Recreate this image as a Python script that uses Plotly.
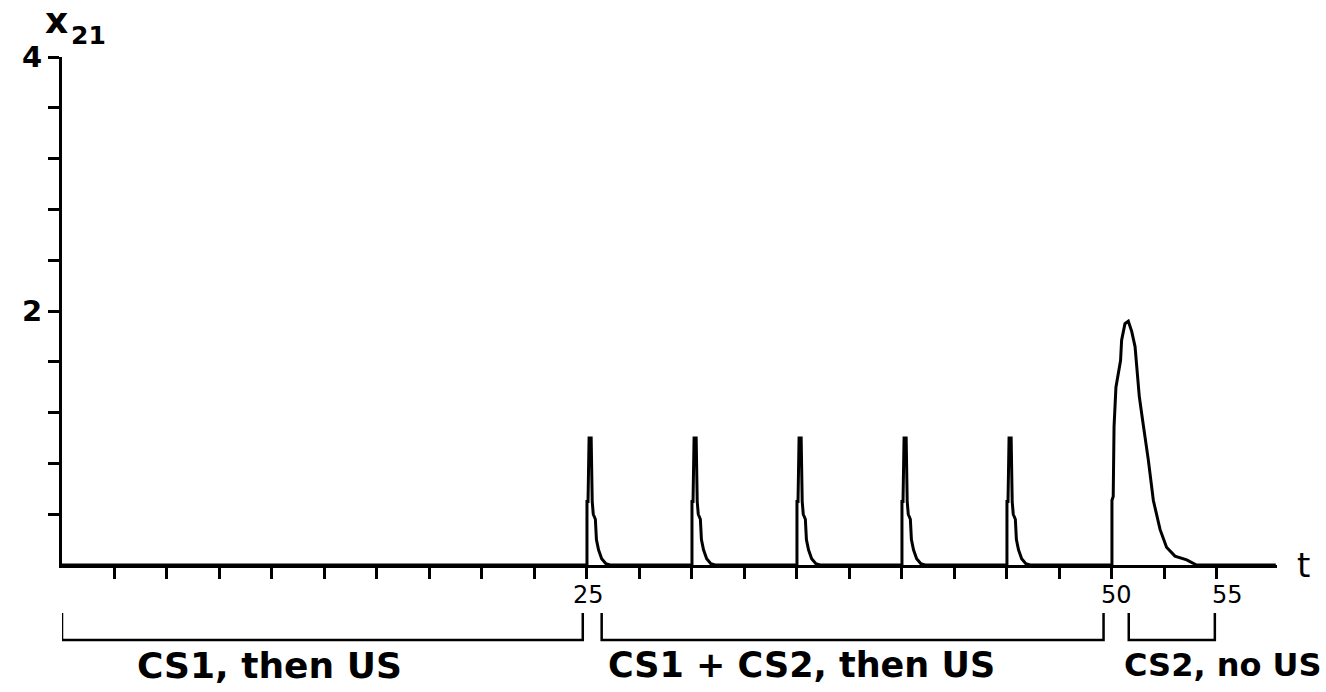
import plotly.graph_objects as go

# ---- data ----
trial_onsets = [25, 30, 35, 40, 45]              # CS1 + CS2 trials
spike_dt = [0, 0, 0.05, 0.10, 0.20, 0.25, 0.30, 0.40, 0.45, 0.55, 0.70, 0.90, 1.10]
spike_x21 = [0, 0.50, 0.50, 1.00, 1.00, 0.50, 0.40, 0.36, 0.20, 0.12, 0.05, 0.01, 0]

peak_t = [50.0, 50.0, 50.06, 50.10, 50.19, 50.41, 50.46, 50.62, 50.78, 50.94,
          51.10, 51.30, 51.46, 51.73, 51.97, 52.29, 52.60, 53.00, 53.56, 54.03]
peak_x21 = [0, 0.51, 0.54, 1.09, 1.40, 1.61, 1.77, 1.90, 1.92, 1.84,
            1.72, 1.33, 1.14, 0.83, 0.51, 0.28, 0.14, 0.07, 0.04, 0]

x_tick_vals = [2.5, 5, 7.5, 10, 12.5, 15, 17.5, 20, 22.5, 25, 27.5, 30, 32.5, 35,
               37.5, 40, 42.5, 45, 47.5, 50, 52.5, 55]
y_tick_vals = [0.4, 0.8, 1.2, 1.6, 2.0, 2.4, 2.8, 3.2, 3.6, 4.0]
y_tick_text = ["", "", "", "", "2", "", "", "", "", "4"]

x_labels = ["25", "50", "55"]
x_label_pos = [25.05, 50.2, 55.52]

phase_labels = ["CS1, then US", "CS1 + CS2, then US", "CS2, no US"]
phase_start = [0, 25.7, 50.8]
phase_end = [24.8, 49.6, 54.9]
phase_label_pos = [9.9, 35.2, 55.3]
phase_label_size = [36, 35, 32]

# ---- assemble the curve ----
t = [0]
x21 = [0]
for onset in trial_onsets:
    for dt, v in zip(spike_dt, spike_x21):
        t.append(onset + dt)
        x21.append(v)
t += peak_t
x21 += peak_x21
t.append(57.8)
x21.append(0)

fig = go.Figure()
fig.add_trace(go.Scatter(x=t, y=x21, mode="lines",
                         line=dict(color="black", width=3),
                         hoverinfo="skip", showlegend=False))

fig.update_layout(
    width=1326, height=692,
    margin=dict(l=62, r=49, t=57, b=127),
    paper_bgcolor="white", plot_bgcolor="white",
    showlegend=False,
    xaxis=dict(range=[0, 57.86], showgrid=False, zeroline=False,
               showline=True, linecolor="black", linewidth=3,
               ticks="outside", ticklen=11, tickwidth=3, tickcolor="black",
               tickvals=x_tick_vals, ticktext=[""] * len(x_tick_vals)),
    yaxis=dict(range=[0, 4], showgrid=False, zeroline=False,
               showline=True, linecolor="black", linewidth=3,
               ticks="outside", ticklen=11, tickwidth=3, tickcolor="black",
               tickvals=y_tick_vals, ticktext=y_tick_text,
               tickfont=dict(family="DejaVu Sans", size=29, color="black", weight="bold")),
)

annotations = []
for lab, pos in zip(x_labels, x_label_pos):
    annotations.append(dict(x=pos, y=-0.059, xref="x", yref="paper", text=lab,
                            showarrow=False, xanchor="center", yanchor="middle",
                            font=dict(family="DejaVu Sans", size=24, color="black")))

shapes = []
for a, b in zip(phase_start, phase_end):
    shapes.append(dict(type="path", xref="x", yref="paper",
                       path=f"M {a},-0.0945 L {a},-0.1476 L {b},-0.1476 L {b},-0.0945",
                       line=dict(color="black", width=2.5)))
for lab, pos, sz in zip(phase_labels, phase_label_pos, phase_label_size):
    annotations.append(dict(x=pos, y=-0.197, xref="x", yref="paper", text=lab,
                            showarrow=False, xanchor="center", yanchor="middle",
                            font=dict(family="DejaVu Sans", size=sz, color="black",
                                      weight="bold")))

# y-axis title "x21" (x with subscript 21)
annotations.append(dict(x=-0.016, y=1.072, xref="paper", yref="paper",
                        text="x", showarrow=False,
                        xanchor="left", yanchor="middle",
                        font=dict(family="DejaVu Sans", size=36, color="black", weight="bold")))
annotations.append(dict(x=0.006, y=1.043, xref="paper", yref="paper",
                        text="21", showarrow=False,
                        xanchor="left", yanchor="middle",
                        font=dict(family="DejaVu Sans", size=25, color="black", weight="bold")))
annotations.append(dict(x=1.022, y=0.0, xref="paper", yref="paper", text="t",
                        showarrow=False, xanchor="center", yanchor="middle",
                        font=dict(family="DejaVu Sans", size=34, color="black")))

fig.update_layout(annotations=annotations, shapes=shapes)
fig.write_html("out.html", config={"displayModeBar": False},
               post_script="document.body.style.margin='0';")
